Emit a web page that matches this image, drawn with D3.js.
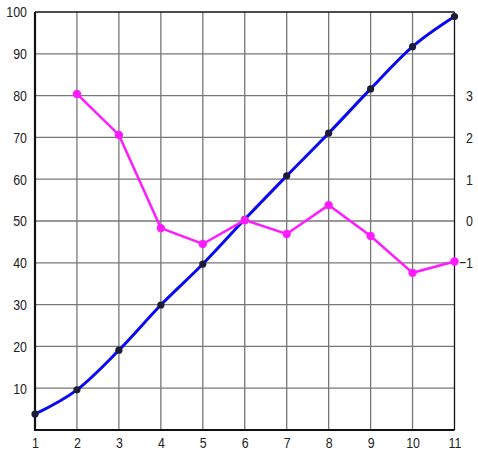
<!DOCTYPE html>
<html><head><meta charset="utf-8">
<script src="https://cdn.jsdelivr.net/npm/d3@7"></script>
<style>
body{margin:0;background:#fff;}
text{font-family:"Liberation Sans Narrow","Arial Narrow","Liberation Sans",sans-serif;font-size:15.5px;fill:#222;}
</style></head><body>
<svg id="c" width="478" height="455"></svg>
<script>
const xValues = [1,2,3,4,5,6,7,8,9,10,11];
const leftSeries = [3.8,9.6,19.1,29.9,39.7,50.4,60.8,71.0,81.6,91.7,98.9];
const rightX = [2,3,4,5,6,7,8,9,10,11];
const rightSeries = [3.04,2.06,-0.17,-0.55,0.02,-0.31,0.38,-0.36,-1.24,-0.97];
const leftTicks = [10,20,30,40,50,60,70,80,90,100];
const rightTicks = [3,2,1,0,-1];
const xTicks = [1,2,3,4,5,6,7,8,9,10,11];

const svg = d3.select("#c");
const L=35,R=454.5,T=12,B=430;
const SX=0.8;
const x = d3.scaleLinear().domain([1,11]).range([L,R]);
const y = d3.scaleLinear().domain([0,100]).range([B,T]);
const y2 = d3.scaleLinear().domain([-5,5]).range([B,T]);

// grid
const g = svg.append("g");
g.selectAll(".vg").data(xTicks.slice(1,-1)).enter().append("line")
 .attr("x1",d=>x(d)).attr("x2",d=>x(d)).attr("y1",T).attr("y2",B)
 .attr("stroke","#777").attr("stroke-width",1.3);
g.selectAll(".hg").data(leftTicks.slice(0,-1)).enter().append("line")
 .attr("x1",L).attr("x2",R).attr("y1",d=>y(d)).attr("y2",d=>y(d))
 .attr("stroke","#777").attr("stroke-width",1.3);

// frame
svg.append("line").attr("x1",L).attr("x2",R).attr("y1",T).attr("y2",T).attr("stroke","#111").attr("stroke-width",1.3);
svg.append("line").attr("x1",R).attr("x2",R).attr("y1",T).attr("y2",B).attr("stroke","#111").attr("stroke-width",1.3);

// left axis
const la = svg.append("g").attr("transform",`translate(${L},0)`)
 .call(d3.axisLeft(y).tickValues(leftTicks).tickSize(0).tickPadding(8));
la.select(".domain").attr("stroke","#111").attr("stroke-width",2.2).attr("d",`M0,${T}V${B+1}`);
la.selectAll("text").attr("fill","#222").attr("font-family",null).attr("font-size",null)
 .attr("x",-8/SX).attr("transform",`scale(${SX},1)`);

// bottom axis
const ba = svg.append("g").attr("transform",`translate(0,${B})`)
 .call(d3.axisBottom(x).tickValues(xTicks).tickSize(0).tickPadding(7).tickFormat(d3.format("d")));
ba.select(".domain").attr("stroke","#111").attr("stroke-width",2.2).attr("d",`M${L-1},0H${R}`);
ba.selectAll("text").attr("fill","#222").attr("font-family",null).attr("font-size",null)
 .attr("transform",`scale(${SX},1)`);

// right axis labels
svg.append("g").selectAll("g").data(rightTicks).enter().append("g")
 .attr("transform",d=>`translate(473,${y2(d)})`)
 .append("text").attr("dy","0.35em").attr("text-anchor","end")
 .attr("transform",`scale(${SX},1)`)
 .text(d=>d<0?"\u2212"+Math.abs(d):d);

// blue series
const bd = xValues.map((d,i)=>[d,leftSeries[i]]);
svg.append("path").datum(bd)
 .attr("d",d3.line().x(d=>x(d[0])).y(d=>y(d[1])).curve(d3.curveMonotoneX))
 .attr("fill","none").attr("stroke","#0a0af0").attr("stroke-width",3);
svg.append("g").selectAll("circle").data(bd).enter().append("circle")
 .attr("cx",d=>x(d[0])).attr("cy",d=>y(d[1])).attr("r",3.6).attr("fill","#1c1c3a");

// magenta series
const md = rightX.map((d,i)=>[d,rightSeries[i]]);
svg.append("path").datum(md)
 .attr("d",d3.line().x(d=>x(d[0])).y(d=>y2(d[1])))
 .attr("fill","none").attr("stroke","#ff1aff").attr("stroke-width",2.5);
svg.append("g").selectAll("circle").data(md).enter().append("circle")
 .attr("cx",d=>x(d[0])).attr("cy",d=>y2(d[1])).attr("r",4.2).attr("fill","#ff1aff");
</script></body></html>
